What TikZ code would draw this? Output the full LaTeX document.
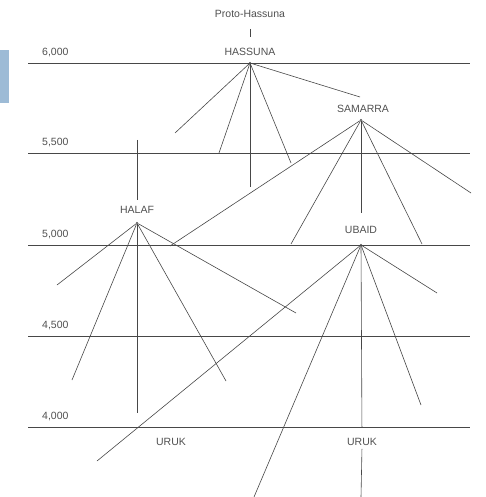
\documentclass[tikz,border=0pt]{standalone}
\usepackage{fontspec}
\setmainfont{Liberation Sans}
\usetikzlibrary{positioning}
\definecolor{scanline}{HTML}{474747}
\definecolor{scantext}{HTML}{505050}
\definecolor{scanbar}{HTML}{9DBBD6}
\tikzset{
    culture/.style={font=\fontsize{10.5}{11}\selectfont, text=scantext, inner sep=1pt},
    yearlbl/.style={font=\fontsize{10.5}{11}\selectfont, text=scantext, anchor=west, inner sep=0pt},
    hub/.style={circle, fill=scanline, inner sep=0pt, minimum size=2.4pt},
    branch/.style={draw=scanline, line width=0.6pt},
    timeline/.style={draw=scanline, line width=0.8pt}
}
\begin{document}
\begin{tikzpicture}[x=1pt, y=-1pt]
\useasboundingbox (0,0) rectangle (486,497);
\fill[scanbar] (0,50) rectangle (9,103);
\foreach \yy/\yt in {63/{6,000}, 153/{5,500}, 245/{5,000}, 336/{4,500}, 427/{4,000}} {
    \node[yearlbl] (year\yy) at (42,\yy-10.5) {\yt};
    \draw[timeline] (28,\yy) coordinate (left\yy) -- (470,\yy) coordinate (right\yy);
}
\node[hub] (hassuna) at (250,63) {};
\node[culture, above=5pt of hassuna] (hassunalbl) {HASSUNA};
\node[culture, above=28pt of hassunalbl] (proto) {Proto-Hassuna};
\node[hub] (samarra) at (361,120) {};
\node[culture, above=5pt of samarra, xshift=2pt] (samarralbl) {SAMARRA};
\node[hub] (halaf) at (137,223) {};
\node[culture, above=7pt of halaf] (halaflbl) {HALAF};
\node[hub] (ubaid) at (361,245) {};
\node[culture, above=9pt of ubaid] (ubaidlbl) {UBAID};
\node[culture] (urukleft) at (171,442) {URUK};
\node[culture] (urukright) at (362,442) {URUK};
\draw[branch, shorten <=10pt, shorten >=10pt] (proto) -- (hassunalbl);
\foreach \ex/\ey [count=\k] in {175/133, 219/153, 250/187, 291/163, 360/97}
    \draw[branch] (hassuna) -- (\ex,\ey) coordinate (hassuna-\k);
\foreach \ex/\ey [count=\k] in {170/246, 291/244, 422/244, 471/193}
    \draw[branch] (samarra) -- (\ex,\ey) coordinate (samarra-\k);
\draw[branch, shorten >=12pt] (samarra) -- (ubaidlbl.north);
\draw[branch, shorten >=5pt] (137,140) coordinate (halafroot) -- (halaflbl.north);
\foreach \ex/\ey [count=\k] in {57/285, 72/380, 137/413, 226/381, 296/313}
    \draw[branch] (halaf) -- (\ex,\ey) coordinate (halaf-\k);
\foreach \ex/\ey [count=\k] in {97/461, 254/497, 421/405, 437/293}
    \draw[branch] (ubaid) -- (\ex,\ey) coordinate (ubaid-\k);
\draw[branch, shorten >=10pt] (ubaid) -- (urukright.north);
\draw[branch, shorten <=2pt] (urukright.south) -- (361,497) coordinate (urukend);
\end{tikzpicture}
\end{document}
